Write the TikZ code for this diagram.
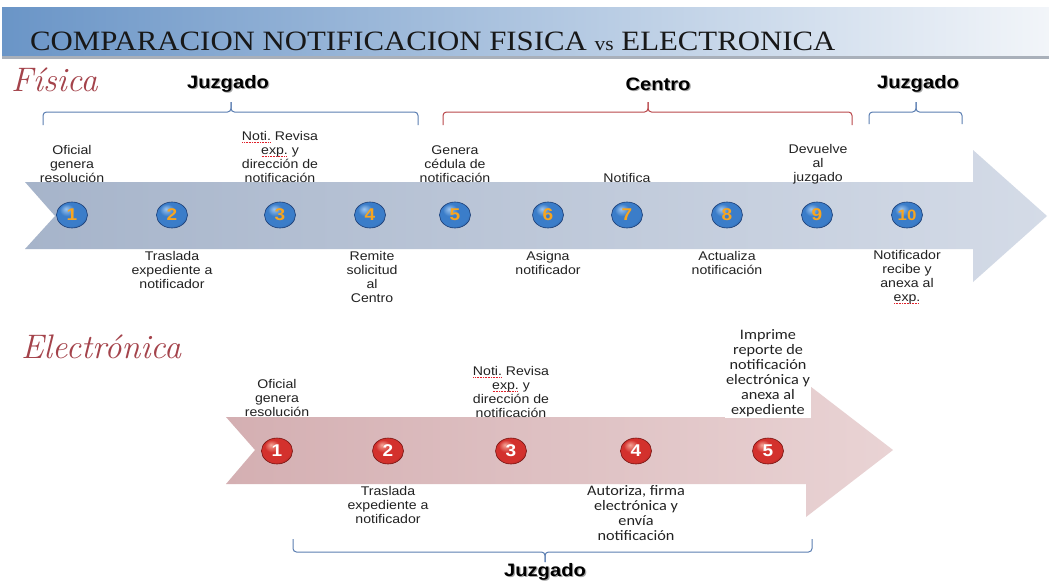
\documentclass[tikz,border=0pt]{standalone}
\usepackage{fontspec}
\usetikzlibrary{shapes.geometric}
\newfontfamily\sansS[FakeStretch=1.12]{Liberation Sans}
\newfontfamily\calS[FakeStretch=1.12]{Carlito}
\newfontfamily\titleF[FakeStretch=1.1]{Liberation Serif}
\definecolor{bannerL}{HTML}{6A95C7}
\definecolor{bannerR}{HTML}{F2F5F9}
\definecolor{bannerLine}{HTML}{A9B0BA}
\definecolor{titlecol}{HTML}{181818}
\definecolor{hand}{HTML}{A4434B}
\definecolor{txt}{HTML}{222222}
\definecolor{braceB}{HTML}{5B7EB2}
\definecolor{braceR}{HTML}{B9474B}
\definecolor{upL}{HTML}{A6B4CA}
\definecolor{upR}{HTML}{D4DBE7}
\definecolor{loL}{HTML}{D4AFB2}
\definecolor{loR}{HTML}{E9D3D4}
\definecolor{bhl}{HTML}{9CC4EE}
\definecolor{bmid}{HTML}{3B7DC9}
\definecolor{bdark}{HTML}{1A3C74}
\definecolor{rhl}{HTML}{F4A496}
\definecolor{rmid}{HTML}{D3312D}
\definecolor{rdark}{HTML}{761311}
\definecolor{numorange}{HTML}{F7A51F}
\definecolor{wavered}{HTML}{E0202A}
\pgfdeclareradialshading{ballshB}{\pgfpoint{-10bp}{12bp}}{color(0bp)=(bhl); color(12bp)=(bmid); color(28bp)=(bmid); color(42bp)=(bdark); color(60bp)=(bdark)}
\pgfdeclareradialshading{ballshR}{\pgfpoint{-10bp}{12bp}}{color(0bp)=(rhl); color(12bp)=(rmid); color(28bp)=(rmid); color(42bp)=(rdark); color(60bp)=(rdark)}
\newcommand\rwave[1]{\setbox0\hbox{#1}\leavevmode\rlap{\textcolor{wavered}{\hbox to \wd0{\leaders\hbox to 1.6pt{\hss\rule[-2.6pt]{0.9pt}{0.8pt}\hss}\hfill}}}\box0\relax}
\tikzset{
  lbl/.style={align=center, font=\sansS\fontsize{12.6}{13.9}\selectfont, text=txt, inner sep=1pt},
  lblc/.style={align=center, font=\calS\fontsize{14.5}{15}\selectfont, text=txt, inner sep=1pt},
  head/.style={font=\sansS\bfseries\fontsize{18}{18}\selectfont, text=black, inner sep=0pt},
  headsh/.style={font=\sansS\bfseries\fontsize{18}{18}\selectfont, text=black!35, inner sep=0pt},
  ballB/.style={ellipse, minimum width=31, minimum height=26, inner sep=0pt, shading=ballshB, draw=bdark, line width=0.6pt, text=numorange, font=\sansS\bfseries\fontsize{17}{17}\selectfont},
  ballR/.style={ellipse, minimum width=31, minimum height=26, inner sep=0pt, shading=ballshR, draw=rdark, line width=0.6pt, text=white, font=\sansS\bfseries\fontsize{17}{17}\selectfont},
  braceline/.style={line width=1pt, rounded corners=3.5},
  handw/.style={font=\itshape\addfontfeatures{FakeStretch=1.2}\fontsize{34}{34}\selectfont, text=hand, inner sep=0pt}
}
\begin{document}
\begin{tikzpicture}[x=1pt,y=-1pt]
\useasboundingbox (0,0) rectangle (1049,582);
\fill[white] (0,0) rectangle (1049,582);
% banner
\shade[left color=bannerL, right color=bannerR] (2,7) rectangle (1049,56);
\fill[bannerLine] (2,56) rectangle (1049,58.5);
\node[anchor=base west, font=\titleF\fontsize{28}{28}\selectfont, text=titlecol, inner sep=0pt] (title) at (30,50)
  {COMPARACION NOTIFICACION FISICA {\fontsize{19.5}{19.5}\selectfont vs} ELECTRONICA};
% section titles
\node[handw, anchor=base west] (fis) at (11,91) {Física};
\node[handw, anchor=base west] (ele) at (21,358) {Electrónica};

% ===== upper arrow =====
\shade[left color=upL, right color=upR]
  (25,182) -- (973,182) -- (973,150) -- (1047,216) -- (973,282) -- (973,249) -- (25,249) -- (55,216) -- cycle;

% headers with shadow
\node[headsh] at (229.2,85.2) {Juzgado};
\node[head] (hj1) at (228,84) {Juzgado};
\node[headsh] at (659.2,85.2) {Centro};
\node[head] (hc) at (658,84) {Centro};
\node[headsh] at (919.2,85.2) {Juzgado};
\node[head] (hj2) at (918,84) {Juzgado};

% braces
\coordinate (b1l) at (43,125); \coordinate (b1m) at (231,102); \coordinate (b1r) at (418,125);
\draw[braceline, braceB] (b1l) |- (b1m |- 0,112) -- (b1m);
\draw[braceline, braceB] (b1m) -- (b1m |- 0,112) -| (b1r);
\coordinate (b2l) at (443,125); \coordinate (b2m) at (648,102); \coordinate (b2r) at (852,125);
\draw[braceline, braceR] (b2l) |- (b2m |- 0,112) -- (b2m);
\draw[braceline, braceR] (b2m) -- (b2m |- 0,112) -| (b2r);
\coordinate (b3l) at (869,124); \coordinate (b3m) at (916,102); \coordinate (b3r) at (962,124);
\draw[braceline, braceB] (b3l) |- (b3m |- 0,112) -- (b3m);
\draw[braceline, braceB] (b3m) -- (b3m |- 0,112) -| (b3r);

% balls
\node[ballB] (c1) at (72,215) {1};
\node[ballB] (c2) at (172,215) {2};
\node[ballB] (c3) at (280,215) {3};
\node[ballB] (c4) at (370,215) {4};
\node[ballB] (c5) at (455,215) {5};
\node[ballB] (c6) at (548,215) {6};
\node[ballB] (c7) at (627,215) {7};
\node[ballB] (c8) at (727,215) {8};
\node[ballB] (c9) at (817,215) {9};
\node[ballB, font=\sansS\bfseries\fontsize{15}{15}\selectfont] (c10) at (907,215) {10};

% labels
\node[lbl] (u1) at (72,164) {Oficial\\genera\\resolución};
\node[lbl] (u2) at (172,270) {Traslada\\expediente a\\notificador};
\node[lbl] (u3) at (280,157) {\rwave{Noti.} Revisa\\\rwave{exp.} y\\dirección de\\notificación};
\node[lbl] (u4) at (372,277) {Remite\\solicitud\\al\\Centro};
\node[lbl] (u5) at (455,164) {Genera\\cédula de\\notificación};
\node[lbl] (u6) at (548,263) {Asigna\\notificador};
\node[lbl] (u7) at (627,178) {Notifica};
\node[lbl] (u8) at (727,263) {Actualiza\\notificación};
\node[lbl] (u9) at (818,164) {Devuelve\\al\\juzgado};
\node[lbl] (u10) at (907,277) {Notificador\\recibe y\\anexa al\\\rwave{exp.}};

% ===== lower arrow =====
\shade[left color=loL, right color=loR]
  (226,417) -- (806,417) -- (806,383) -- (893,450) -- (806,517) -- (806,484) -- (226,484) -- (255,450) -- cycle;

\node[ballR] (e1) at (277,451) {1};
\node[ballR] (e2) at (388,451) {2};
\node[ballR] (e3) at (511,451) {3};
\node[ballR] (e4) at (636,451) {4};
\node[ballR] (e5) at (768,451) {5};

\node[lbl] (l1) at (277,398) {Oficial\\genera\\resolución};
\node[lbl] (l2) at (388,505) {Traslada\\expediente a\\notificador};
\node[lbl] (l3) at (511,392) {\rwave{Noti.} Revisa\\\rwave{exp.} y\\dirección de\\notificación};
\node[lblc] (l4) at (636,513) {Autoriza, firma\\electrónica y\\envía\\notificación};
\node[lblc, fill=white] (l5) at (768,373) {Imprime\\reporte de\\notificación\\electrónica y\\anexa al\\expediente};

% lower brace
\coordinate (b4l) at (293,539); \coordinate (b4m) at (545,562); \coordinate (b4r) at (812,539);
\draw[braceline, braceB] (b4l) |- (b4m |- 0,552) -- (b4m);
\draw[braceline, braceB] (b4m) -- (b4m |- 0,552) -| (b4r);
\node[headsh] at (546.2,573.2) {Juzgado};
\node[head] (hj3) at (545,572) {Juzgado};
\end{tikzpicture}
\end{document}
